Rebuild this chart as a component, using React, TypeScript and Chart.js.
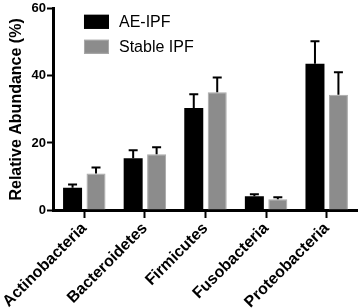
import React, { useEffect, useRef } from "react";
import { Chart, registerables } from "chart.js";

Chart.register(...registerables);

const categories = ["Actinobacteria", "Bacteroidetes", "Firmicutes", "Fusobacteria", "Proteobacteria"];
const aeIpf = [6.6, 15.4, 30.4, 4.1, 43.6];
const aeIpfErr = [1.0, 2.4, 4.1, 0.6, 6.7];
const stableIpf = [10.9, 16.6, 35.1, 3.2, 34.4];
const stableIpfErr = [1.8, 2.1, 4.4, 0.6, 6.7];
const seriesNames = ["AE-IPF", "Stable IPF"];
const yTicks = [0, 20, 40, 60];

const FONT = "'Liberation Sans', Arial, Helvetica, sans-serif";
const GRAY_FILL = "#8c8c8c";
const GRAY_BORDER = "#a8a8a8";

const errorBarPlugin = {
  id: "errorBars",
  afterDatasetsDraw(chart: any) {
    const ctx = chart.ctx;
    const yScale = chart.scales.y;
    const errs = [aeIpfErr, stableIpfErr];
    chart.data.datasets.forEach((ds: any, di: number) => {
      const meta = chart.getDatasetMeta(di);
      meta.data.forEach((el: any, i: number) => {
        const v = ds.data[i];
        const top = yScale.getPixelForValue(v + errs[di][i]);
        const x = el.x;
        ctx.save();
        ctx.strokeStyle = "#000";
        ctx.lineWidth = 2;
        ctx.beginPath();
        ctx.moveTo(x, el.y);
        ctx.lineTo(x, top);
        ctx.moveTo(x - 4.5, top);
        ctx.lineTo(x + 4.5, top);
        ctx.stroke();
        ctx.restore();
      });
    });
  },
};

const legendPlugin = {
  id: "customLegend",
  afterDraw(chart: any) {
    const ctx = chart.ctx;
    const left = chart.chartArea.left + 30;
    const top = chart.chartArea.top + 6;
    const fills = ["#000", GRAY_FILL];
    const borders = ["#000", GRAY_BORDER];
    ctx.save();
    seriesNames.forEach((name, i) => {
      const y = top + i * 25;
      ctx.fillStyle = fills[i];
      ctx.fillRect(left, y, 25, 14);
      ctx.strokeStyle = borders[i];
      ctx.lineWidth = 1;
      ctx.strokeRect(left + 0.5, y + 0.5, 24, 13);
      ctx.fillStyle = "#000";
      ctx.font = `16px ${FONT}`;
      ctx.textBaseline = "middle";
      ctx.textAlign = "left";
      ctx.fillText(name, left + 35, y + 7.5);
    });
    ctx.restore();
  },
};

export default function App() {
  const ref = useRef<HTMLCanvasElement>(null);
  useEffect(() => {
    if (!ref.current) return;
    const chart = new Chart(ref.current, {
      type: "bar",
      data: {
        labels: categories,
        datasets: [
          {
            label: seriesNames[0],
            data: aeIpf,
            backgroundColor: "#000",
            borderColor: "#000",
            borderWidth: 0,
          },
          {
            label: seriesNames[1],
            data: stableIpf,
            backgroundColor: GRAY_FILL,
            borderColor: GRAY_BORDER,
            borderWidth: 1,
          },
        ],
      },
      options: {
        responsive: false,
        animation: false,
        devicePixelRatio: 1,
        categoryPercentage: 0.774,
        barPercentage: 0.81,
        layout: { padding: { top: 7, right: 1, left: 0, bottom: 0 } },
        plugins: {
          legend: { display: false },
          tooltip: { enabled: false },
        },
        scales: {
          x: {
            offset: true,
            grid: {
              offset: false,
              drawOnChartArea: false,
              drawTicks: true,
              tickLength: 8,
              tickWidth: 2,
              tickColor: "#000",
            },
            border: { color: "#000", width: 3 },
            ticks: {
              color: "#000",
              font: { family: FONT, size: 16, weight: "bold" },
              maxRotation: 45,
              minRotation: 45,
              padding: 1,
            },
            afterFit(scale: any) {
              scale.height = 98;
            },
          },
          y: {
            min: 0,
            max: 60,
            afterBuildTicks(scale: any) {
              scale.ticks = yTicks.map((v) => ({ value: v }));
            },
            grid: {
              drawOnChartArea: false,
              drawTicks: true,
              tickLength: 7,
              tickWidth: 2,
              tickColor: "#000",
            },
            border: { color: "#000", width: 3 },
            ticks: {
              color: "#000",
              font: { family: FONT, size: 13, weight: "bold" },
              padding: 1,
            },
            title: {
              display: true,
              text: "Relative Abundance (%)",
              color: "#000",
              font: { family: FONT, size: 16, weight: "bold" },
              padding: 0,
            },
            afterFit(scale: any) {
              scale.width = 47;
            },
          },
        },
      },
      plugins: [errorBarPlugin, legendPlugin],
    });
    return () => chart.destroy();
  }, []);
  return (
    <div style={{ position: "absolute", left: 0, top: 0, width: 358, height: 308, background: "#fff" }}>
      <canvas ref={ref} width={358} height={308} />
    </div>
  );
}
